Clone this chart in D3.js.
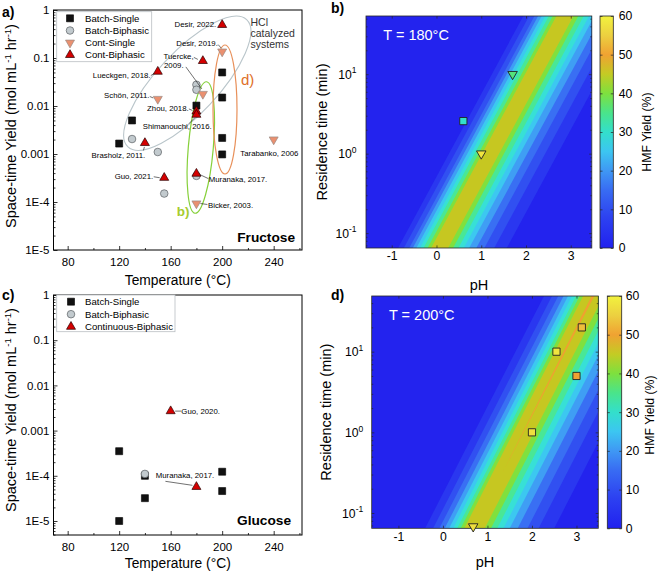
<!DOCTYPE html>
<html><head><meta charset="utf-8">
<script src="https://cdn.jsdelivr.net/npm/d3@7/dist/d3.min.js"></script>
<style>html,body{margin:0;padding:0;background:#fff;}svg{display:block;}</style>
</head><body>
<svg id="fig" width="661" height="573"></svg>
<script>
// ================= DATA =================
const tempTicks = [80,120,160,200,240];
const tempMinorTicks = [100,140,180,220,260];
const tempDomain = [69,262];
const styTicks = [1,0.1,0.01,0.001,1e-4,1e-5];
const styTickLabels = ["1","0.1","0.01","0.001","1E-4","1E-5"];

// Panel a (Fructose): [Temperature °C, space-time yield mol mL-1 hr-1]
const fruBatchSingle   = [[120,0.00165],[130,0.005],[180,0.0102],[200,0.05],[200,0.015],[200,0.00216],[200,0.00098]];
const fruBatchBiphasic = [[130,0.00205],[150,0.0011],[155,0.00015],[180,0.0277],[180,0.0218],[180,0.00035]];
const fruContSingle    = [[200,0.136],[150,0.014],[185,0.0178],[240,0.002],[180,0.000093]];
const fruContBiphasic  = [[200,0.49],[185,0.087],[150,0.052],[180,0.0077],[180,0.0066],[140,0.0017],[155,0.00032],[180,0.00039]];

// Panel c (Glucose)
const gluBatchSingle   = [[120,0.00035],[120,0.00001],[140,0.0001],[140,0.000032],[200,0.000123],[200,0.000046]];
const gluBatchBiphasic = [[140,0.00011]];
const gluContBiphasic  = [[160,0.0027],[180,0.000057]];

// literature labels (point they refer to)
const fruNoteTexts = ["Desir, 2022.","Desir, 2019.","Tuercke,","2009.","Lueckgen, 2018.","Schön, 2011.","Zhou, 2018.","Shimanouchi, 2016.","Brasholz, 2011.","Tarabanko, 2006","Guo, 2021.","Muranaka, 2017.","Bicker, 2003."];
const fruNotePoints = [[200,0.49],[200,0.136],[185,0.087],[185,0.087],[150,0.052],[150,0.014],[180,0.0077],[180,0.0066],[140,0.0017],[240,0.002],[155,0.00032],[180,0.00039],[180,0.000093]];
const gluNoteTexts = ["Guo, 2020.","Muranaka, 2017."];
const gluNotePoints = [[160,0.0027],[180,0.000057]];

// Panels b,d (contour maps)
const phTicks = [-1,0,1,2,3];
const timeTicks = [0.1,1,10];
const timeTickExp = ["-1","0","1"];
const cbarTicks = [0,10,20,30,40,50,60];
const cmapStops  = [0,8,15,20,25,30,35,40,45,50,55,60];
const cmapColors = ["#2121ef","#2d42f1","#386cf3","#3f98f4","#3cc6f1","#33dfcb","#4ae48a","#7ee03e","#c4cb24","#f0a232","#ecd040","#f2f23e"];
const contourLevels = [0,5,10,15,20,25,30,35,40,45,50];
const levelColors = ["#2323ee","#2a37f0","#3150f1","#396ff3","#3f9ef4","#3cc8f0","#37e0d6","#49e796","#80e03e","#c6c721","#f0a030"];

const bRidgePH = [0.07, 2.87];           // pH of yield ridge at bottom / top residence time
const bLeftOffset  = [-0.93,-0.80,-0.68,-0.60,-0.52,-0.44,-0.36,-0.27,-0.19];
const bRightOffset = [ 1.50, 1.22, 1.00, 0.82, 0.66, 0.54, 0.42, 0.30, 0.19];
const bSquares   = [[0.6,2.57,30]];      // [pH, time (min), yield %]
const bTriangles = [[1.7,10,36],[1.0,1.0,58]];

const dRidgePH = [0.70, 3.37];
const dLeftOffset  = [-1.10,-0.92,-0.78,-0.66,-0.56,-0.47,-0.38,-0.30,-0.22,-0.03];
const dRightOffset = [ 1.80, 1.45, 1.20, 0.98, 0.80, 0.66, 0.52, 0.38, 0.24, 0.03];
const dPeakFromTime = 0.3;
const dSquares   = [[2.55,10,58],[3.12,20,53],[3.0,5,50],[2.0,1.0,57]];
const dTriangles = [[0.68,0.068,57]];

// ================= DRAWING =================
const FONT = "'Liberation Sans', Arial, Helvetica, sans-serif";
const svg = d3.select("#fig");
const defs = svg.append("defs");

function shapePath(type, cx, cy, s){
  if(type==="square"){const h=s/2; return `M${cx-h},${cy-h}h${s}v${s}h${-s}Z`;}
  if(type==="circle"){const r=s/2; return `M${cx-r},${cy}a${r},${r} 0 1,0 ${2*r},0a${r},${r} 0 1,0 ${-2*r},0Z`;}
  const h=s*Math.sqrt(3)/2;
  if(type==="up") return `M${cx},${cy-2*h/3}L${cx+s/2},${cy+h/3}L${cx-s/2},${cy+h/3}Z`;
  return `M${cx},${cy+2*h/3}L${cx+s/2},${cy-h/3}L${cx-s/2},${cy-h/3}Z`;
}
const mk = {
  batchSingle:   {type:"square", size:7,   fill:"#111",    stroke:"#000",    sw:0.6},
  batchBiphasic: {type:"circle", size:7.6, fill:"#c2cace", stroke:"#5a5f63", sw:0.7},
  contSingle:    {type:"down",   size:9,   fill:"#ea9070", stroke:"#9a8a84", sw:0.7},
  contBiphasic:  {type:"up",     size:9,   fill:"#d40000", stroke:"#2a0000", sw:0.7}
};
function drawMarker(g, st, cx, cy){
  g.append("path").attr("d", shapePath(st.type,cx,cy,st.size))
   .attr("fill",st.fill).attr("stroke",st.stroke).attr("stroke-width",st.sw);
}
function styleAxis(a, fs){
  a.attr("font-family",FONT).attr("font-size",fs);
  a.select(".domain").remove();
  a.selectAll(".tick line").attr("stroke","#000").attr("stroke-width",0.8);
  a.selectAll(".tick text").attr("fill","#000");
}
function logMinor(lo, hi){
  const out=[];
  for(let k=-7;k<=2;k++) for(let m=2;m<=9;m++){const v=m*Math.pow(10,k); if(v>lo&&v<hi) out.push(v);}
  return out;
}
function addText(g, x, y, txt, o={}){
  const t = g.append("text").attr("x",x).attr("y",y).text(txt)
    .attr("font-family",FONT).attr("font-size",o.fs||10).attr("fill",o.fill||"#000")
    .attr("text-anchor",o.anchor||"start");
  if(o.bold) t.attr("font-weight","bold");
  return t;
}

// ---------- scatter panels ----------
function scatterPanel(o){
  const x = d3.scaleLinear().domain(tempDomain).range([o.x0,o.x1]);
  const y = d3.scaleLog().domain([o.yMin,1]).range([o.y1,o.y0]);
  const g = svg.append("g");
  const xa = g.append("g").attr("transform",`translate(0,${o.y1})`)
    .call(d3.axisBottom(x).tickValues(tempTicks).tickSize(-4).tickPadding(7.5));
  styleAxis(xa, 11.5);
  const xm = g.append("g").attr("transform",`translate(0,${o.y1})`)
    .call(d3.axisBottom(x).tickValues(tempMinorTicks.filter(v=>v<tempDomain[1])).tickSize(-2).tickFormat(""));
  styleAxis(xm, 11.5);
  const ya = g.append("g").attr("transform",`translate(${o.x0},0)`)
    .call(d3.axisLeft(y).tickValues(styTicks.filter(v=>v>=o.yMin)).tickSize(-4).tickPadding(4)
      .tickFormat(d=>styTickLabels[styTicks.indexOf(d)]));
  styleAxis(ya, 11.5);
  const ym = g.append("g").attr("transform",`translate(${o.x0},0)`)
    .call(d3.axisLeft(y).tickValues(logMinor(o.yMin,1)).tickSize(-2).tickFormat(""));
  styleAxis(ym, 11.5);

  if(o.extra) o.extra(g,x,y);

  o.series.forEach(s=> s.data.forEach(d=> drawMarker(g, s.st, x(d[0]), y(d[1]))));

  // notes
  o.notes.forEach(n=>{
    const px=x(n.p[0]), py=y(n.p[1]);
    if(n.lead) g.append("line").attr("x1",px+n.lead[0]).attr("y1",py+n.lead[1])
      .attr("x2",px+n.lead[2]).attr("y2",py+n.lead[3]).attr("stroke","#111").attr("stroke-width",0.6);
    addText(g, px+n.dx, py+n.dy, n.text, {fs:7.8, anchor:n.anchor});
  });

  g.append("rect").attr("x",o.x0).attr("y",o.y0).attr("width",o.x1-o.x0).attr("height",o.y1-o.y0)
    .attr("fill","none").attr("stroke","#000").attr("stroke-width",1);

  // legend
  const L = o.legend;
  g.append("rect").attr("x",L.x).attr("y",L.y).attr("width",L.w).attr("height",L.h)
    .attr("fill","#fff").attr("stroke","#b9bec2").attr("stroke-width",0.8);
  L.items.forEach((it,i)=>{
    const cy = L.y0 + i*L.dy;
    drawMarker(g, it.st, L.sx, cy);
    addText(g, L.tx, cy+3.4, it.label, {fs:9.6});
  });

  addText(g, o.substrateX, o.substrateY, o.substrate, {fs:13.7, bold:true, anchor:"end"});
  addText(g, (o.x0+o.x1)/2, o.xTitleY, "Temperature (°C)", {fs:13.8, anchor:"middle"});
  const yt = g.append("text").attr("transform",`translate(${o.yTitleX},${o.yTitleY}) rotate(-90)`)
    .attr("text-anchor","middle").attr("font-family",FONT).attr("font-size",14.5).attr("fill","#000");
  yt.append("tspan").text("Space-time Yield (mol mL");
  yt.append("tspan").text("-1").attr("font-size",9.5).attr("dy",-5.5);
  yt.append("tspan").text(" hr").attr("dy",5.5);
  yt.append("tspan").text("-1").attr("font-size",9.5).attr("dy",-5.5);
  yt.append("tspan").text(")").attr("dy",5.5);
  addText(g, o.labelX, o.labelY, o.label, {fs:14, bold:true});
}

// panel a
const fruNoteLayout = [
  {dx:-6,   dy:2,    anchor:"end",   lead:null},
  {dx:-4.3, dy:-6,   anchor:"end",   lead:[-4,-7,-1,-3.5]},
  {dx:-9.3, dy:-2.3, anchor:"end",   lead:[-9,-3.5,-5,-1.5]},
  {dx:-19.3,dy:7,    anchor:"end",   lead:[-17,6,-1,28]},
  {dx:-7.3, dy:6.3,  anchor:"end",   lead:[-7,4,-4,2]},
  {dx:-8.3, dy:-0.6, anchor:"end",   lead:[-8,-2.5,-4.5,-1]},
  {dx:-7.7, dy:-0.4, anchor:"end",   lead:[-7.5,-2.5,-4,-1]},
  {dx:-53.7,dy:14.7, anchor:"start", lead:[-7.5,9,-1.5,3]},
  {dx:0.3,  dy:14.7, anchor:"end",   lead:[-1.5,7.5,-0.5,4]},
  {dx:-33.3,dy:16.3, anchor:"start", lead:null},
  {dx:-11,  dy:1.4,  anchor:"end",   lead:[-10.5,-1,-4.5,0]},
  {dx:12.3, dy:8.7,  anchor:"start", lead:[12,5,3.5,1]},
  {dx:11.6, dy:4.7,  anchor:"start", lead:[11,1,4,0]}
];
scatterPanel({
  x0:53.5, x1:302, y0:10, y1:250, yMin:1e-5,
  series:[{st:mk.batchSingle,data:fruBatchSingle},{st:mk.batchBiphasic,data:fruBatchBiphasic},
          {st:mk.contSingle,data:fruContSingle},{st:mk.contBiphasic,data:fruContBiphasic}],
  notes: fruNoteTexts.map((t,i)=>Object.assign({text:t,p:fruNotePoints[i]},fruNoteLayout[i])),
  legend:{x:56.7,y:11.7,w:95,h:50,y0:18.3,dy:12.2,sx:70,tx:85,
    items:[{st:mk.batchSingle,label:"Batch-Single"},{st:mk.batchBiphasic,label:"Batch-Biphasic"},
           {st:mk.contSingle,label:"Cont-Single"},{st:mk.contBiphasic,label:"Cont-Biphasic"}]},
  substrate:"Fructose", substrateX:295, substrateY:241.5,
  xTitleY:285, yTitleX:16, yTitleY:126, label:"a)", labelX:2, labelY:17,
  extra:(g,x,y)=>{
    g.append("ellipse").attr("cx",187.3).attr("cy",83.3).attr("rx",87).attr("ry",31)
      .attr("transform","rotate(-47,187.3,83.3)").attr("fill","none").attr("stroke","#b9c5ca").attr("stroke-width",1.1);
    g.append("ellipse").attr("cx",200.8).attr("cy",147.5).attr("rx",12.5).attr("ry",66)
      .attr("transform","rotate(5,200.8,147.5)").attr("fill","none").attr("stroke","#86d03a").attr("stroke-width",1.2);
    g.append("ellipse").attr("cx",225).attr("cy",109.5).attr("rx",12).attr("ry",64.5)
      .attr("fill","none").attr("stroke","#e8905a").attr("stroke-width",1.2);
    addText(g,250.5,25.5,"HCl",{fs:10.5,fill:"#333"});
    addText(g,250.5,36.5,"catalyzed",{fs:10.5,fill:"#333"});
    addText(g,250.5,48,"systems",{fs:10.5,fill:"#333"});
    addText(g,241,85,"d)",{fs:15,fill:"#e07028"});
    addText(g,176.7,216,"b)",{fs:13.5,fill:"#a6cc2e",bold:true});
  }
});

// panel c
const gluNoteLayout = [
  {dx:10.7, dy:3,   anchor:"start", lead:[10.5,0,4.5,0]},
  {dx:-40.7,dy:-8.7,anchor:"start", lead:[-31,-5.5,-4,-1.5]}
];
scatterPanel({
  x0:53.5, x1:302, y0:295, y1:535, yMin:Math.pow(10,-5.31),
  series:[{st:mk.batchSingle,data:gluBatchSingle},{st:mk.batchBiphasic,data:gluBatchBiphasic},
          {st:mk.contBiphasic,data:gluContBiphasic}],
  notes: gluNoteTexts.map((t,i)=>Object.assign({text:t,p:gluNotePoints[i]},gluNoteLayout[i])),
  legend:{x:56.7,y:295,w:118.3,h:36.7,y0:301.7,dy:12.5,sx:71,tx:85,
    items:[{st:mk.batchSingle,label:"Batch-Single"},{st:mk.batchBiphasic,label:"Batch-Biphasic"},
           {st:mk.contBiphasic,label:"Continuous-Biphasic"}]},
  substrate:"Glucose", substrateX:291, substrateY:525,
  xTitleY:568, yTitleX:16, yTitleY:410, label:"c)", labelX:2, labelY:300
});

// ---------- contour panels ----------
const cmap = d3.scaleLinear().domain(cmapStops).range(cmapColors).interpolate(d3.interpolateRgb).clamp(true);
function contourPanel(o){
  const x = d3.scaleLinear().domain(o.phDomain).range([o.x0,o.x1]);
  const y = d3.scaleLog().domain(o.tDomain).range([o.y1,o.y0]);
  const g = svg.append("g");
  const cid = "clip"+o.id;
  defs.append("clipPath").attr("id",cid).append("rect").attr("x",o.x0).attr("y",o.y0)
    .attr("width",o.x1-o.x0).attr("height",o.y1-o.y0);
  const cg = g.append("g").attr("clip-path",`url(#${cid})`);
  cg.append("rect").attr("x",o.x0).attr("y",o.y0).attr("width",o.x1-o.x0).attr("height",o.y1-o.y0)
    .attr("fill",levelColors[0]);
  const lt0=Math.log10(o.tDomain[0]), lt1=Math.log10(o.tDomain[1]);
  const ridgeAt = t => o.ridge[0] + (Math.log10(t)-lt0)/(lt1-lt0)*(o.ridge[1]-o.ridge[0]);
  const line = d3.line().x(p=>x(p[0])).y(p=>y(p[1]));
  o.left.forEach((lo,i)=>{
    const ro=o.right[i];
    const tb = (o.peakFrom && contourLevels[i+1]>=50) ? o.peakFrom : o.tDomain[0];
    const tt = o.tDomain[1];
    let pts;
    if(tb>o.tDomain[0]) pts=[[ridgeAt(tb),tb],[ridgeAt(tt)+lo,tt],[ridgeAt(tt)+ro,tt]];
    else pts=[[ridgeAt(tb)+lo,tb],[ridgeAt(tt)+lo,tt],[ridgeAt(tt)+ro,tt],[ridgeAt(tb)+ro,tb]];
    cg.append("path").attr("d",line(pts)+"Z").attr("fill",levelColors[i+1]);
  });

  // axes (ticks inward on all sides)
  const minor = logMinor(o.tDomain[0],o.tDomain[1]);
  const mkAx = (axis, tr, fs) => { const a=g.append("g").attr("transform",tr).call(axis); styleAxis(a,fs);
    a.selectAll(".tick line").attr("stroke","#262626").attr("stroke-width",0.7); return a; };
  mkAx(d3.axisBottom(x).tickValues(phTicks).tickSize(-2.6).tickPadding(3.6).tickFormat(d=>d), `translate(0,${o.y1})`, 12.2);
  mkAx(d3.axisTop(x).tickValues(phTicks).tickSize(-2.6).tickFormat(""), `translate(0,${o.y0})`, 12);
  const ya = mkAx(d3.axisLeft(y).tickValues(timeTicks).tickSize(-2.6).tickPadding(o.yPad).tickFormat(""), `translate(${o.x0},0)`, 12.2);
  ya.selectAll(".tick text").each(function(d){
    const t=d3.select(this); t.text(null).attr("dy","0.35em");
    t.append("tspan").text("10");
    t.append("tspan").text(timeTickExp[timeTicks.indexOf(d)]).attr("font-size",8.5).attr("dy",-5.5);
  });
  mkAx(d3.axisLeft(y).tickValues(minor).tickSize(-1.5).tickFormat(""), `translate(${o.x0},0)`, 12);
  mkAx(d3.axisRight(y).tickValues(timeTicks).tickSize(-2.6).tickFormat(""), `translate(${o.x1},0)`, 12);
  mkAx(d3.axisRight(y).tickValues(minor).tickSize(-1.5).tickFormat(""), `translate(${o.x1},0)`, 12);
  g.append("rect").attr("x",o.x0).attr("y",o.y0).attr("width",o.x1-o.x0).attr("height",o.y1-o.y0)
    .attr("fill","none").attr("stroke","#262626").attr("stroke-width",0.8);

  // markers
  o.squares.forEach(d=> g.append("path").attr("d",shapePath("square",x(d[0]),y(d[1]),7.2))
     .attr("fill",cmap(d[2])).attr("stroke","#222").attr("stroke-width",0.9));
  o.triangles.forEach(d=> g.append("path").attr("d",shapePath("down",x(d[0]),y(d[1]),9.5))
     .attr("fill",cmap(d[2])).attr("stroke","#222").attr("stroke-width",0.9));

  addText(g, o.x0+17.3, o.tLabelY, o.tLabel, {fs:14.5, fill:"#fff"});
  addText(g, (o.x0+o.x1)/2, o.pHY, "pH", {fs:14.5, anchor:"middle"});
  g.append("text").attr("transform",`translate(${o.yTitleX},${(o.y0+o.y1)/2}) rotate(-90)`)
    .attr("text-anchor","middle").attr("font-family",FONT).attr("font-size",14.5).text("Residence time (min)");

  // colorbar
  const gid="grad"+o.id;
  const grad = defs.append("linearGradient").attr("id",gid).attr("x1",0).attr("y1",1).attr("x2",0).attr("y2",0);
  cmapStops.forEach((s,i)=> grad.append("stop").attr("offset",s/60).attr("stop-color",cmapColors[i]));
  const cy = d3.scaleLinear().domain([0,60]).range([o.y1,o.y0]);
  g.append("rect").attr("x",o.cb0).attr("y",o.y0).attr("width",o.cb1-o.cb0).attr("height",o.y1-o.y0)
    .attr("fill",`url(#${gid})`);
  mkAx(d3.axisRight(cy).tickValues(cbarTicks).tickSize(-2.5).tickPadding(o.cbPad), `translate(${o.cb1},0)`, 12.2);
  mkAx(d3.axisLeft(cy).tickValues(cbarTicks).tickSize(-2.5).tickFormat(""), `translate(${o.cb0},0)`, 12);
  g.append("rect").attr("x",o.cb0).attr("y",o.y0).attr("width",o.cb1-o.cb0).attr("height",o.y1-o.y0)
    .attr("fill","none").attr("stroke","#262626").attr("stroke-width",0.8);
  g.append("text").attr("transform",`translate(${o.cbTitleX},${o.cbTitleY}) rotate(-90)`)
    .attr("text-anchor","middle").attr("font-family",FONT).attr("font-size",12.3).text("HMF Yield (%)");
  addText(g, o.labelX, o.labelY, o.label, {fs:14, bold:true});
}

contourPanel({id:"b", x0:366, x1:591.8, y0:16, y1:248, phDomain:[-1.575,3.47], tDomain:[0.065,54],
  ridge:bRidgePH, left:bLeftOffset, right:bRightOffset, squares:bSquares, triangles:bTriangles,
  yPad:9.5, tLabel:"T = 180°C", tLabelY:40, pHY:290, yTitleX:327,
  cb0:600, cb1:613.3, cbPad:5.5, cbTitleX:651, cbTitleY:132, label:"b)", labelX:331, labelY:13});

contourPanel({id:"d", x0:371.7, x1:598.3, y0:296, y1:528.3, phDomain:[-1.6,3.49], tDomain:[0.0646,49],
  ridge:dRidgePH, left:dLeftOffset, right:dRightOffset, peakFrom:dPeakFromTime, squares:dSquares, triangles:dTriangles,
  yPad:8.5, tLabel:"T = 200°C", tLabelY:320, pHY:567, yTitleX:331,
  cb0:607.3, cb1:621.7, cbPad:4, cbTitleX:653.5, cbTitleY:415, label:"d)", labelX:331, labelY:300});
</script>
</body></html>
